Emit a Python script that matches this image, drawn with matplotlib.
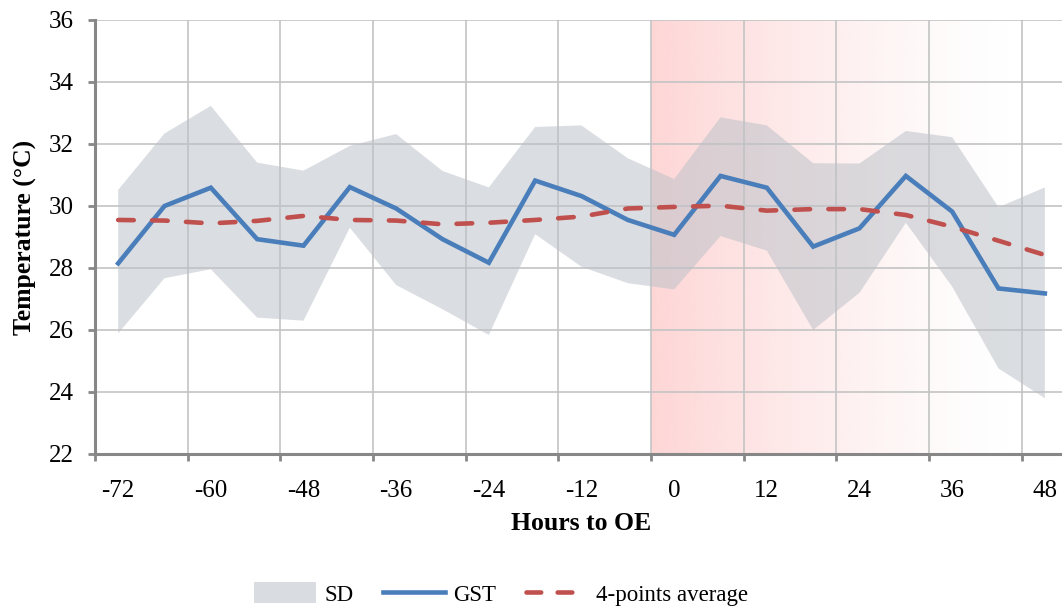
import numpy as np
import matplotlib
matplotlib.use("Agg")
import matplotlib.pyplot as plt
from matplotlib.patches import Patch
from matplotlib.lines import Line2D

# Hours relative to onset of event (OE)
hours = [-72, -66, -60, -54, -48, -42, -36, -30, -24, -18, -12, -6,
         0, 6, 12, 18, 24, 30, 36, 42, 48]

# Ground surface temperature (°C)
gst = [28.15, 30.00, 30.59, 28.93, 28.72, 30.61, 29.92, 28.93, 28.17, 30.82, 30.32, 29.55,
       29.07, 30.97, 30.59, 28.69, 29.28, 30.97, 29.82, 27.34, 27.18]

# Upper / lower edge of the standard-deviation band
sd_upper = [30.52, 32.34, 33.23, 31.40, 31.14, 31.94, 32.32, 31.13, 30.60, 32.55, 32.60, 31.54,
            30.87, 32.86, 32.60, 31.38, 31.37, 32.42, 32.22, 29.96, 30.60]
sd_lower = [25.89, 27.67, 27.96, 26.40, 26.30, 29.30, 27.45, 26.67, 25.84, 29.09, 28.04, 27.51,
            27.31, 29.03, 28.56, 26.00, 27.20, 29.46, 27.40, 24.76, 23.80]

# 4-points running average
avg4 = [29.55, 29.53, 29.44, 29.52, 29.68, 29.55, 29.53, 29.41, 29.46, 29.55, 29.66, 29.92,
        29.97, 30.01, 29.85, 29.90, 29.90, 29.71, 29.33, 28.88, 28.42]

x_labels = ["-72", "-60", "-48", "-36", "-24", "-12", "0", "12", "24", "36", "48"]
event_start = -3

plt.rcParams["font.family"] = ["Liberation Serif", "DejaVu Serif"]
plt.rcParams["font.size"] = 17

W, H = 1062, 610
fig = plt.figure(figsize=(W / 100, H / 100), dpi=100)
ax = fig.add_axes([95 / W, 1 - 454 / H, (1068 - 95) / W, (454 - 20) / H])

xmin, xmax = -75, 51
ymin, ymax = 22, 36
ax.set_xlim(xmin, xmax)
ax.set_ylim(ymin, ymax)

# Event period: pink band fading out to the right
grad = np.linspace(0, 1, 400)
alpha = np.clip(1 - grad * 1.15, 0, 1) ** 1.35
rgba = np.zeros((1, grad.size, 4))
rgba[..., 0] = 254 / 255
rgba[..., 1] = 214 / 255
rgba[..., 2] = 214 / 255
rgba[..., 3] = alpha
ax.imshow(rgba, extent=[event_start, xmax, ymin, ymax], aspect="auto",
          interpolation="bilinear", zorder=0)

# Grid
ax.set_xticks(np.arange(-75, 52, 12))
ax.set_xticks([int(s) for s in x_labels], minor=True)
ax.set_xticklabels([])
ax.set_xticklabels(x_labels, minor=True)
ax.set_yticks(np.arange(22, 37, 2))
ax.grid(True, which="major", color="#c4c4c4", linewidth=1.2, zorder=0.5)
ax.set_axisbelow(True)

ax.fill_between(hours, sd_lower, sd_upper, facecolor=(0.74, 0.76, 0.79),
                alpha=0.55, linewidth=0, zorder=1)
ax.plot(hours, gst, color="#4a7ebb", linewidth=3.3, solid_joinstyle="miter", zorder=3)
ax.plot(hours, avg4, color="#c0504d", linewidth=3.3, dashes=(3.4, 4.0),
        dash_capstyle="round", zorder=4)

for side in ("top", "right"):
    ax.spines[side].set_visible(False)
for side in ("left", "bottom"):
    ax.spines[side].set_color("#878787")
    ax.spines[side].set_linewidth(2.2)

ax.tick_params(axis="x", which="major", length=5, width=2, color="#878787", direction="out")
ax.tick_params(axis="x", which="minor", length=0, pad=19, labelsize=18)
ax.tick_params(axis="y", which="major", length=5, width=2, color="#878787",
               direction="out", pad=10, labelsize=18)

fig.text(581 / W, 1 - 523 / H, "Hours to OE", ha="center", va="center",
         fontsize=18.5, fontweight="bold")
fig.text(25 / W, 1 - 237 / H, "Temperature (°C)", ha="center", va="center",
         rotation=90, fontsize=18.5, fontweight="bold")

handles = [
    Patch(facecolor="#d9dce1", edgecolor="none"),
    Line2D([], [], color="#4a7ebb", linewidth=3.3),
    Line2D([], [], color="#c0504d", linewidth=3.3, dashes=(3.2, 3.6), dash_capstyle="round"),
]
fig.legend(handles, ["SD", "GST", "4-points average"], loc="center",
           bbox_to_anchor=(501 / W, 1 - 594 / H), ncol=3, frameon=False,
           fontsize=16.5, handlelength=2.7, handletextpad=0.35, columnspacing=1.3,
           handleheight=1.0)

fig.savefig("out.png", dpi=100)
